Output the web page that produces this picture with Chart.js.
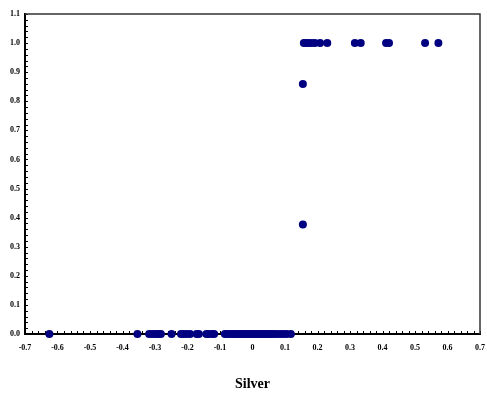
<!DOCTYPE html>
<html>
<head>
<meta charset="utf-8">
<script src="https://cdn.jsdelivr.net/npm/chart.js@4/dist/chart.umd.min.js"></script>
<style>
  html, body { margin: 0; padding: 0; background: #fff; }
  #wrap { width: 487px; height: 395px; }
</style>
</head>
<body>
<div id="wrap"><canvas id="chart" width="487" height="395"></canvas></div>
<script>
// points lying on y = 0
const zeroX = [-0.625, -0.354, -0.318, -0.308, -0.298, -0.29, -0.282, -0.249,
  -0.22, -0.212, -0.202, -0.192, -0.172, -0.165, -0.142, -0.135, -0.125, -0.118,
  -0.085, -0.078, -0.07, -0.062, -0.055, -0.048, -0.04, -0.032, -0.025, -0.018,
  -0.01, -0.004, 0.004, 0.012, 0.02, 0.028, 0.035, 0.042, 0.05, 0.058, 0.065,
  0.075, 0.085, 0.095, 0.105, 0.118];
// points lying on y = 1
const oneX = [0.158, 0.165, 0.172, 0.182, 0.192, 0.208, 0.23, 0.315, 0.333,
  0.411, 0.42, 0.531, 0.572];
// the two points in between
const midX = [0.155, 0.155];
const midY = [0.859, 0.376];

const xMin = -0.7, xMax = 0.7, yMin = 0, yMax = 1.1;
const axisTitle = 'Silver';

let points = [];
zeroX.forEach((x) => points.push({ x: x, y: 0 }));
oneX.forEach((x) => points.push({ x: x, y: 1 }));
midX.forEach((x, i) => points.push({ x: x, y: midY[i] }));

const tickFont = { family: "'Liberation Serif', 'Times New Roman', serif", size: 8, weight: 'bold' };

// inward minor/major ticks every 0.02 plus the grey top/right frame
const frameTicks = {
  id: 'frameTicks',
  beforeDatasetsDraw(chart) {
    const { ctx, chartArea: a, scales } = chart;
    ctx.save();
    ctx.strokeStyle = '#000';
    ctx.lineWidth = 1;
    ctx.beginPath();
    for (let i = 0; i <= 70; i++) {
      const px = Math.round(scales.x.getPixelForValue(xMin + i * 0.02)) + 0.5;
      ctx.moveTo(px, a.bottom);
      ctx.lineTo(px, a.bottom - 3);
    }
    for (let i = 0; i <= 55; i++) {
      const py = Math.round(scales.y.getPixelForValue(yMin + i * 0.02)) + 0.5;
      ctx.moveTo(a.left, py);
      ctx.lineTo(a.left + 3, py);
    }
    ctx.stroke();
    ctx.strokeStyle = '#333';
    ctx.lineWidth = 1.5;
    ctx.beginPath();
    ctx.moveTo(a.left, a.top);
    ctx.lineTo(a.right, a.top);
    ctx.lineTo(a.right, a.bottom);
    ctx.stroke();
    ctx.restore();
  }
};

new Chart(document.getElementById('chart'), {
  type: 'scatter',
  data: {
    datasets: [{
      data: points,
      backgroundColor: '#000080',
      borderWidth: 0,
      pointRadius: 4,
      pointHoverRadius: 4,
      clip: false
    }]
  },
  options: {
    responsive: false,
    animation: false,
    events: [],
    layout: { padding: { top: 14, right: 0, left: 0, bottom: 0 } },
    plugins: { legend: { display: false }, tooltip: { enabled: false } },
    scales: {
      x: {
        type: 'linear',
        min: xMin,
        max: xMax,
        afterFit: (s) => { s.height = 61; s.paddingRight = 7; },
        grid: { drawOnChartArea: false, drawTicks: false },
        border: { display: true, color: '#000', width: 2 },
        ticks: {
          stepSize: 0.1,
          padding: 9,
          color: '#000',
          font: tickFont,
          maxRotation: 0,
          autoSkip: false,
          callback: (v) => Math.abs(v) < 1e-9 ? '0' : v.toFixed(1)
        },
        title: {
          display: true,
          text: axisTitle,
          color: '#000',
          font: { family: "'Liberation Serif', 'Times New Roman', serif", size: 14, weight: 'bold' },
          padding: { top: 0, bottom: 2 }
        }
      },
      y: {
        type: 'linear',
        min: yMin,
        max: yMax,
        afterFit: (s) => { s.width = 25; },
        grid: { drawOnChartArea: false, drawTicks: false },
        border: { display: true, color: '#000', width: 2 },
        ticks: {
          stepSize: 0.1,
          padding: 5,
          color: '#000',
          font: tickFont,
          autoSkip: false,
          callback: (v) => v.toFixed(1)
        }
      }
    }
  },
  plugins: [frameTicks]
});
</script>
</body>
</html>
